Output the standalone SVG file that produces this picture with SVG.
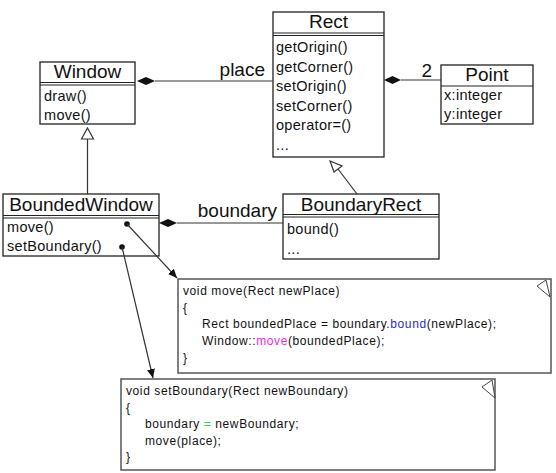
<svg xmlns="http://www.w3.org/2000/svg" width="556" height="473" viewBox="0 0 556 473">
<style>
.box{fill:#fff;stroke:#222;stroke-width:1.3}
.sep{stroke:#222;stroke-width:1}
.title{font-family:"Liberation Sans",Arial,sans-serif;font-size:19px;fill:#111;text-anchor:middle}
.mem{font-family:"Liberation Sans",Arial,sans-serif;font-size:14.5px;fill:#111;letter-spacing:0.3px}
.lbl{font-family:"Liberation Sans",Arial,sans-serif;font-size:19px;fill:#111}
.note{fill:#fff;stroke:#555;stroke-width:1.5}
.code{font-family:"Liberation Sans",Arial,sans-serif;font-size:12px;fill:#111;letter-spacing:0.6px}
.ln{stroke:#333;stroke-width:1.2;fill:none}
.dia{fill:#111;stroke:none}
.gen{fill:#fff;stroke:#333;stroke-width:1.2}
</style>
<defs>
<marker id="arr" markerWidth="10" markerHeight="10" refX="9" refY="4" orient="auto" markerUnits="userSpaceOnUse">
<path d="M0,0 L9,4 L0,8 Z" fill="#111"/>
</marker>
</defs>
<g id="Window">
<rect class="box" x="40" y="62" width="95" height="62"/>
<line class="sep" x1="40" y1="82.5" x2="135" y2="82.5"/>
<line class="sep" x1="40" y1="85" x2="135" y2="85"/>
<text class="title" x="87.5" y="78">Window</text>
<text class="mem" x="44" y="101">draw()</text>
<text class="mem" x="44" y="120">move()</text>
</g>
<g id="Rect">
<rect class="box" x="273" y="12" width="111" height="145"/>
<line class="sep" x1="273" y1="33" x2="384" y2="33"/>
<line class="sep" x1="273" y1="35.5" x2="384" y2="35.5"/>
<text class="title" x="328.5" y="28">Rect</text>
<text class="mem" x="276" y="52">getOrigin()</text>
<text class="mem" x="276" y="71.5">getCorner()</text>
<text class="mem" x="276" y="91">setOrigin()</text>
<text class="mem" x="276" y="110.5">setCorner()</text>
<text class="mem" x="276" y="130">operator=()</text>
<text class="mem" x="276" y="150">...</text>
</g>
<g id="Point">
<rect class="box" x="441" y="65" width="92" height="59"/>
<line class="sep" x1="441" y1="86" x2="533" y2="86"/>
<text class="title" x="487" y="81">Point</text>
<text class="mem" x="444" y="100">x:integer</text>
<text class="mem" x="444" y="119">y:integer</text>
</g>
<g id="BoundedWindow">
<rect class="box" x="3" y="194" width="156" height="62"/>
<line class="sep" x1="3" y1="215.5" x2="159" y2="215.5"/>
<line class="sep" x1="3" y1="218" x2="159" y2="218"/>
<text class="title" x="81" y="211">BoundedWindow</text>
<text class="mem" x="7" y="232">move()</text>
<text class="mem" x="7" y="251">setBoundary()</text>
</g>
<g id="BoundaryRect">
<rect class="box" x="283" y="194" width="156" height="65"/>
<line class="sep" x1="283" y1="214.5" x2="439" y2="214.5"/>
<line class="sep" x1="283" y1="217" x2="439" y2="217"/>
<text class="title" x="361" y="211">BoundaryRect</text>
<text class="mem" x="287" y="234">bound()</text>
<text class="mem" x="287" y="254">...</text>
</g>
<g id="note-move">
<rect class="note" x="178" y="279" width="373" height="94"/>
<path d="M537,286 L546,280 L550,297 Z" fill="#fff" stroke="#444" stroke-width="1"/>
<text class="code" x="183" y="295">void move(Rect newPlace)</text>
<text class="code" x="183" y="312">{</text>
<text class="code" x="202" y="328">Rect boundedPlace = boundary.<tspan fill="#2a2ad0">bound</tspan>(newPlace);</text>
<text class="code" x="202" y="345">Window::<tspan fill="#e030e0">move</tspan>(boundedPlace);</text>
<text class="code" x="183" y="362">}</text>
</g>
<g id="note-setBoundary">
<rect class="note" x="121" y="379" width="374" height="91"/>
<path d="M482,387 L492,380 L495,398 Z" fill="#fff" stroke="#444" stroke-width="1"/>
<text class="code" x="126" y="395">void setBoundary(Rect newBoundary)</text>
<text class="code" x="126" y="412">{</text>
<text class="code" x="145" y="428">boundary <tspan fill="#40d040">=</tspan> newBoundary;</text>
<text class="code" x="145" y="445">move(place);</text>
<text class="code" x="126" y="461">}</text>
</g>
<g id="connectors">
<line class="ln" x1="155" y1="81" x2="273" y2="81"/>
<path class="dia" d="M137,81 L146,77 L155,81 L146,85 Z"/>
<line class="ln" x1="401" y1="80" x2="441" y2="80"/>
<path class="dia" d="M384,80 L392.5,76 L401,80 L392.5,84 Z"/>
<line class="ln" x1="177" y1="223" x2="283" y2="223"/>
<path class="dia" d="M159,223 L168,219 L177,223 L168,227 Z"/>
<line class="ln" x1="87.5" y1="194" x2="87.5" y2="139"/>
<path class="gen" d="M87.5,128 L93.5,139 L81.5,139 Z"/>
<line class="ln" x1="357" y1="194" x2="338" y2="169"/>
<path class="gen" d="M330,161 L342,166 L334,172 Z"/>
<circle cx="127" cy="224" r="2.8" fill="#111"/>
<line class="ln" x1="127" y1="224" x2="177" y2="278" marker-end="url(#arr)"/>
<circle cx="122" cy="247" r="2.8" fill="#111"/>
<line class="ln" x1="122" y1="247" x2="153" y2="378" marker-end="url(#arr)"/>
<text class="lbl" x="265" y="76" text-anchor="end">place</text>
<text class="lbl" x="432" y="77" text-anchor="end">2</text>
<text class="lbl" x="277" y="217" text-anchor="end">boundary</text>
</g>
</svg>
